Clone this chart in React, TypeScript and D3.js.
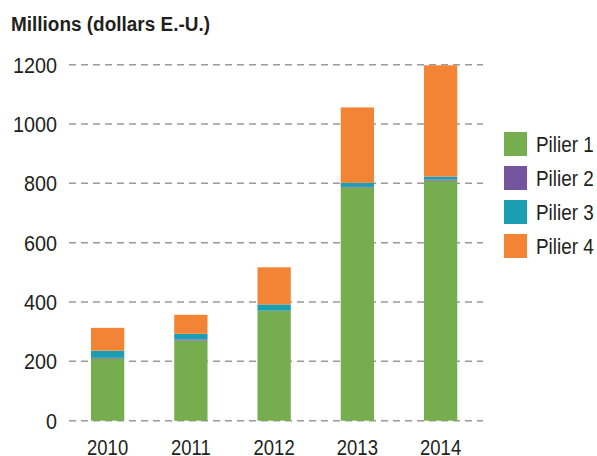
import React from "react";
import * as d3 from "d3";

const years = ["2010", "2011", "2012", "2013", "2014"];
const seriesNames = ["Pilier 1", "Pilier 2", "Pilier 3", "Pilier 4"];
const pilier1 = [209, 270, 370, 786, 809];
const pilier2 = [3, 4, 1, 2, 4];
const pilier3 = [24, 19, 21, 14, 10];
const pilier4 = [77, 64, 125, 254, 375];
const yTicks = [0, 200, 400, 600, 800, 1000, 1200];
const colors = ["#76AD4E", "#76559F", "#1B9EB2", "#F48435"];
const title = "Millions (dollars E.-U.)";

const W = 597;
const H = 456;
const FONT = "'Liberation Sans', Arial, sans-serif";

function NText({ x, y, sx, anchor, size, children, weight }: any) {
  return (
    <text
      transform={`translate(${x},${y}) scale(${sx},1)`}
      textAnchor={anchor || "start"}
      fontFamily={FONT}
      fontSize={size}
      fontWeight={weight || "normal"}
      fill="#231F20"
    >
      {children}
    </text>
  );
}

export default function App() {
  const rows = years.map((y, i) => ({
    year: y,
    "Pilier 1": pilier1[i],
    "Pilier 2": pilier2[i],
    "Pilier 3": pilier3[i],
    "Pilier 4": pilier4[i],
  }));
  const stack = d3.stack<any>().keys(seriesNames)(rows);
  const x = d3.scaleBand().domain(years).range([66, 482.25]).paddingInner(0.6).paddingOuter(0.3);
  const y = d3.scaleLinear().domain([0, 1200]).range([420.7, 64.7]);

  return (
    <svg width={W} height={H} style={{ position: "absolute", left: 0, top: 0, background: "#fff" }}>
      <text x={11} y={31} fontFamily={FONT} fontWeight="bold" fontSize={20} fill="#231F20" textLength={199} lengthAdjust="spacingAndGlyphs">
        {title}
      </text>
      {yTicks.map((t) => (
        <g key={t}>
          <line x1={69} x2={483} y1={y(t)} y2={y(t)} stroke="#9A9A9A" strokeWidth={1.5} strokeDasharray="7,5" />
          <NText x={57} y={y(t) + 8} sx={0.9} anchor="end" size={22}>
            {t}
          </NText>
        </g>
      ))}
      {stack.map((s, si) => (
        <g key={s.key} fill={colors[si]}>
          {s.map((d, i) => (
            <rect key={i} x={x(years[i])} width={x.bandwidth()} y={y(d[1])} height={Math.max(0, y(d[0]) - y(d[1]))} />
          ))}
        </g>
      ))}
      {years.map((yr) => (
        <NText key={yr} x={(x(yr) as number) + x.bandwidth() / 2} y={455} sx={0.84} anchor="middle" size={22}>
          {yr}
        </NText>
      ))}
      {seriesNames.map((n, i) => (
        <g key={n}>
          <rect x={504} y={132 + i * 34} width={23} height={24} fill={colors[i]} />
          <NText x={536} y={152 + i * 34} sx={0.86} size={22}>
            {n}
          </NText>
        </g>
      ))}
    </svg>
  );
}
